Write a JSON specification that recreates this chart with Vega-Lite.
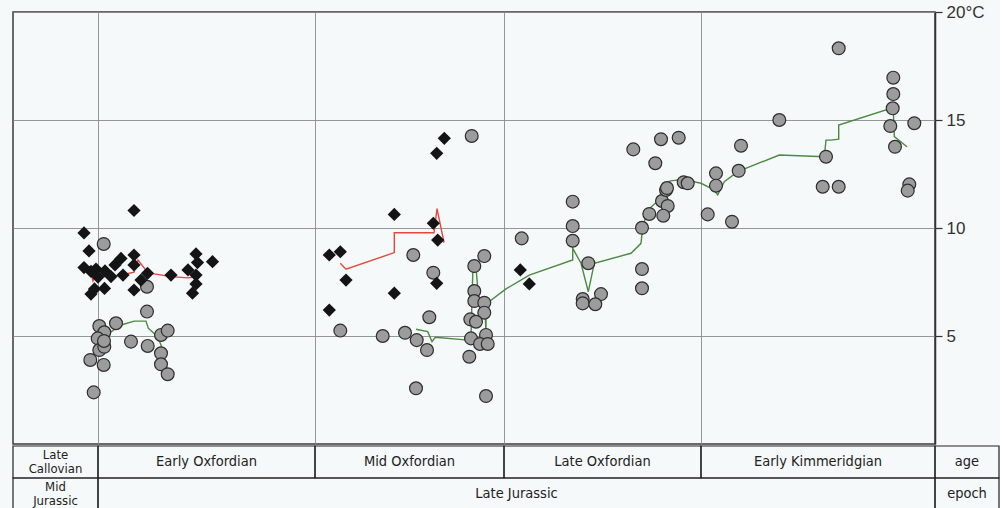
{
  "$schema": "https://vega.github.io/schema/vega-lite/v6.json",
  "background": "#f5f9fa",
  "padding": {"left": 12, "top": 2, "right": 0, "bottom": 0},
  "config": {"view": {"stroke": null}, "font": "Liberation Sans"},
  "spacing": 0,
  "resolve": {"scale": {"x": "independent", "y": "independent"}},
  "datasets": {
    "circles": [
      {"x":102.7,"t":9.26},{"x":146,"t":7.28},{"x":146,"t":6.13},{"x":98.3,"t":5.46},{"x":103.3,"t":5.17},{"x":115,"t":5.59},{"x":96.7,"t":4.89},{"x":98.3,"t":4.35},{"x":103.3,"t":4.5},{"x":103,"t":4.77},{"x":89.3,"t":3.89},{"x":102.7,"t":3.66},{"x":130,"t":4.74},{"x":146.7,"t":4.54},{"x":160,"t":5.05},{"x":166.7,"t":5.25},{"x":160,"t":4.2},{"x":160,"t":3.69},{"x":166.7,"t":3.23},{"x":92.7,"t":2.39},
      {"x":470.7,"t":14.26},{"x":412.3,"t":8.75},{"x":432.3,"t":7.93},{"x":428.3,"t":5.87},{"x":339.3,"t":5.25},{"x":381.7,"t":5.0},{"x":404,"t":5.15},{"x":415.7,"t":4.81},{"x":426,"t":4.35},{"x":415,"t":2.58},{"x":483.3,"t":8.7},{"x":473.3,"t":8.24},{"x":473.3,"t":7.08},{"x":473.3,"t":6.62},{"x":483.3,"t":6.54},{"x":483.3,"t":6.08},{"x":469.3,"t":5.77},{"x":475,"t":5.66},{"x":470,"t":4.89},{"x":485,"t":5.05},{"x":479,"t":4.63},{"x":486.7,"t":4.63},{"x":468.3,"t":4.04},{"x":485,"t":2.22},
      {"x":520.7,"t":9.52},{"x":571.7,"t":11.22},{"x":571.7,"t":10.09},{"x":571.7,"t":9.41},{"x":587.3,"t":8.37},{"x":600,"t":6.94},{"x":581.7,"t":6.71},{"x":581.7,"t":6.51},{"x":594.3,"t":6.47},{"x":632.3,"t":13.64},{"x":660,"t":14.11},{"x":677.7,"t":14.18},{"x":654.3,"t":13.0},{"x":641,"t":10.01},{"x":641,"t":8.1},{"x":641,"t":7.21},{"x":648.3,"t":10.65},{"x":661,"t":11.25},{"x":666.7,"t":11.02},{"x":662.3,"t":10.57},{"x":665,"t":11.76},{"x":666,"t":11.85},{"x":682.7,"t":12.12},{"x":686.7,"t":12.07},
      {"x":706.7,"t":10.63},{"x":715,"t":12.53},{"x":715,"t":11.96},{"x":731,"t":10.29},{"x":740,"t":13.81},{"x":737.7,"t":12.65},{"x":778.3,"t":15.0},{"x":837.7,"t":18.32},{"x":825,"t":13.3},{"x":821.7,"t":11.91},{"x":837.7,"t":11.91},{"x":892.3,"t":16.96},{"x":892.3,"t":16.2},{"x":891.7,"t":15.54},{"x":889.3,"t":14.72},{"x":894,"t":13.76},{"x":913.3,"t":14.85},{"x":908.3,"t":12.02},{"x":906.7,"t":11.73}
    ],
    "diamonds": [
      {"x":133,"t":10.81},{"x":83,"t":9.77},{"x":88,"t":8.94},{"x":83,"t":8.17},{"x":90,"t":7.99},{"x":95,"t":8.1},{"x":97,"t":7.73},{"x":90,"t":6.94},{"x":93.5,"t":7.18},{"x":103.5,"t":7.2},{"x":104,"t":8.01},{"x":110,"t":7.75},{"x":114,"t":8.29},{"x":120,"t":8.59},{"x":122,"t":7.82},{"x":133,"t":8.75},{"x":133,"t":8.29},{"x":140,"t":7.59},{"x":133,"t":7.13},{"x":146.5,"t":7.9},{"x":170,"t":7.82},{"x":187,"t":8.06},{"x":195,"t":8.8},{"x":196.5,"t":8.4},{"x":195,"t":7.82},{"x":195,"t":7.41},{"x":191.5,"t":6.98},{"x":211.5,"t":8.44},
      {"x":443.3,"t":14.15},{"x":435.7,"t":13.46},{"x":393.3,"t":10.63},{"x":432.3,"t":10.22},{"x":436.7,"t":9.44},{"x":328.3,"t":8.75},{"x":339.3,"t":8.9},{"x":345,"t":7.59},{"x":393.3,"t":6.98},{"x":328.3,"t":6.2},{"x":435.7,"t":7.44},
      {"x":519.3,"t":8.06},{"x":528.3,"t":7.41}
    ],
    "lines": [
      {"seg":"r1","s":"diamonds","q":1,"x":88,"t":8.24},{"seg":"r1","s":"diamonds","q":2,"x":92,"t":7.55},{"seg":"r1","s":"diamonds","q":3,"x":96,"t":7.96},{"seg":"r1","s":"diamonds","q":4,"x":104,"t":7.78},{"seg":"r1","s":"diamonds","q":5,"x":112,"t":7.75},{"seg":"r1","s":"diamonds","q":6,"x":125,"t":7.87},{"seg":"r1","s":"diamonds","q":7,"x":133,"t":7.96},{"seg":"r1","s":"diamonds","q":8,"x":137,"t":8.52},{"seg":"r1","s":"diamonds","q":9,"x":147,"t":7.92},{"seg":"r1","s":"diamonds","q":10,"x":170,"t":7.75},{"seg":"r1","s":"diamonds","q":11,"x":187,"t":7.69},{"seg":"r1","s":"diamonds","q":12,"x":193,"t":7.73},
      {"seg":"r2","s":"diamonds","q":1,"x":339.3,"t":8.37},{"seg":"r2","s":"diamonds","q":2,"x":345,"t":8.09},{"seg":"r2","s":"diamonds","q":3,"x":393.3,"t":8.86},{"seg":"r2","s":"diamonds","q":4,"x":393.3,"t":9.78},{"seg":"r2","s":"diamonds","q":5,"x":433,"t":9.78},{"seg":"r2","s":"diamonds","q":6,"x":436,"t":10.9},{"seg":"r2","s":"diamonds","q":7,"x":443,"t":9.33},{"seg":"r2","s":"diamonds","q":8,"x":438,"t":9.63},
      {"seg":"g1","s":"circles","q":1,"x":103.3,"t":4.97},{"seg":"g1","s":"circles","q":2,"x":120,"t":5.51},{"seg":"g1","s":"circles","q":3,"x":133.3,"t":5.69},{"seg":"g1","s":"circles","q":4,"x":145,"t":5.69},{"seg":"g1","s":"circles","q":5,"x":147.3,"t":5.36},{"seg":"g1","s":"circles","q":6,"x":156.7,"t":4.97},{"seg":"g1","s":"circles","q":7,"x":160,"t":4.58},{"seg":"g1","s":"circles","q":8,"x":161.7,"t":4.35},
      {"seg":"g2","s":"circles","q":1,"x":415,"t":5.31},{"seg":"g2","s":"circles","q":2,"x":426.7,"t":5.2},{"seg":"g2","s":"circles","q":3,"x":431,"t":4.74},{"seg":"g2","s":"circles","q":4,"x":434.3,"t":4.94},{"seg":"g2","s":"circles","q":5,"x":466.7,"t":4.81},{"seg":"g2","s":"circles","q":6,"x":470,"t":5.0},{"seg":"g2","s":"circles","q":7,"x":471,"t":6.67},{"seg":"g2","s":"circles","q":8,"x":472,"t":8.24},{"seg":"g2","s":"circles","q":9,"x":475,"t":8.15},{"seg":"g2","s":"circles","q":10,"x":478.3,"t":6.36},{"seg":"g2","s":"circles","q":11,"x":484,"t":6.34},{"seg":"g2","s":"circles","q":12,"x":485,"t":5.05},{"seg":"g2","s":"circles","q":13,"x":485,"t":6.39},{"seg":"g2","s":"circles","q":14,"x":489,"t":6.62},{"seg":"g2","s":"circles","q":15,"x":505,"t":7.18},{"seg":"g2","s":"circles","q":16,"x":528.3,"t":7.82},{"seg":"g2","s":"circles","q":17,"x":571.7,"t":8.52},{"seg":"g2","s":"circles","q":18,"x":571.7,"t":9.06},{"seg":"g2","s":"circles","q":19,"x":580,"t":8.37},{"seg":"g2","s":"circles","q":20,"x":587.3,"t":7.05},{"seg":"g2","s":"circles","q":21,"x":593.3,"t":8.37},{"seg":"g2","s":"circles","q":22,"x":630,"t":8.83},{"seg":"g2","s":"circles","q":23,"x":640,"t":9.29},{"seg":"g2","s":"circles","q":24,"x":641.7,"t":10.03},{"seg":"g2","s":"circles","q":25,"x":646.7,"t":10.83},{"seg":"g2","s":"circles","q":26,"x":660,"t":11.38},{"seg":"g2","s":"circles","q":27,"x":661.7,"t":12.07},{"seg":"g2","s":"circles","q":28,"x":670,"t":12.18},{"seg":"g2","s":"circles","q":29,"x":681.7,"t":12.25},{"seg":"g2","s":"circles","q":30,"x":700,"t":12.07},{"seg":"g2","s":"circles","q":31,"x":713.3,"t":11.76},{"seg":"g2","s":"circles","q":32,"x":716.7,"t":11.53},{"seg":"g2","s":"circles","q":33,"x":723.3,"t":12.14},{"seg":"g2","s":"circles","q":34,"x":736.7,"t":12.61},{"seg":"g2","s":"circles","q":35,"x":778.3,"t":13.38},{"seg":"g2","s":"circles","q":36,"x":823.3,"t":13.3},{"seg":"g2","s":"circles","q":37,"x":825,"t":14.07},{"seg":"g2","s":"circles","q":38,"x":830,"t":14.07},{"seg":"g2","s":"circles","q":39,"x":837.7,"t":14.11},{"seg":"g2","s":"circles","q":40,"x":837.7,"t":14.77},{"seg":"g2","s":"circles","q":41,"x":890,"t":15.54},{"seg":"g2","s":"circles","q":42,"x":892.3,"t":15.46},{"seg":"g2","s":"circles","q":43,"x":893.3,"t":14.23},{"seg":"g2","s":"circles","q":44,"x":906,"t":13.76}
    ],
    "table": [
      {"x1":12,"x2":97,"xm":54.5,"y1":1,"y2":2,"ym":1.5,"ml":true,"label":"Late\nCallovian"},
      {"x1":97,"x2":314,"xm":205.5,"y1":1,"y2":2,"ym":1.5,"ml":false,"label":"Early Oxfordian"},
      {"x1":314,"x2":503,"xm":408.5,"y1":1,"y2":2,"ym":1.5,"ml":false,"label":"Mid Oxfordian"},
      {"x1":503,"x2":700,"xm":601.5,"y1":1,"y2":2,"ym":1.5,"ml":false,"label":"Late Oxfordian"},
      {"x1":700,"x2":934,"xm":817,"y1":1,"y2":2,"ym":1.5,"ml":false,"label":"Early Kimmeridgian"},
      {"x1":934,"x2":998,"xm":966,"y1":1,"y2":2,"ym":1.5,"ml":false,"label":"age"},
      {"x1":12,"x2":97,"xm":54.5,"y1":0,"y2":1,"ym":0.5,"ml":true,"label":"Mid\nJurassic"},
      {"x1":97,"x2":934,"xm":515.5,"y1":0,"y2":1,"ym":0.5,"ml":false,"label":"Late Jurassic"},
      {"x1":934,"x2":998,"xm":966,"y1":0,"y2":1,"ym":0.5,"ml":false,"label":"epoch"}
    ]
  },
  "vconcat": [
    {
      "width": 922,
      "height": 432,
      "view": {"stroke": "#3a3a3a", "strokeWidth": 1.5, "fill": "#f5f9fa"},
      "encoding": {
        "x": {"field": "x", "type": "quantitative",
          "scale": {"domain": [12, 934], "nice": false, "zero": false},
          "axis": {"values": [97, 314, 503, 700], "grid": true, "labels": false, "ticks": false, "domain": false, "title": null, "gridColor": "#8a8a8a", "gridWidth": 0.9, "gridOpacity": 1}},
        "y": {"field": "t", "type": "quantitative",
          "scale": {"domain": [0, 20], "nice": false, "zero": true},
          "axis": {"orient": "right", "values": [5, 10, 15, 20], "title": null, "grid": true, "gridColor": "#8a8a8a", "gridWidth": 0.9, "gridOpacity": 1,
            "labelExpr": "datum.value == 20 ? '20°C' : datum.label",
            "tickSize": 7, "tickColor": "#333", "tickWidth": 1.2, "domainColor": "#333", "domainWidth": 1.5,
            "labelFont": "Liberation Sans", "labelFontSize": 17, "labelColor": "#333", "labelPadding": 4}}
      },
      "layer": [
        {
          "data": {"name": "lines"},
          "mark": {"type": "line", "strokeWidth": 1.4},
          "encoding": {
            "detail": {"field": "seg"},
            "order": {"field": "q", "type": "quantitative"},
            "color": {"field": "s", "type": "nominal", "scale": {"domain": ["diamonds", "circles"], "range": ["#e5483b", "#4a8b41"]}, "legend": null}
          }
        },
        {
          "data": {"name": "circles"},
          "mark": {"type": "point", "shape": "circle", "filled": true, "size": 165, "fill": "#9c9c9c", "stroke": "#2e2e2e", "strokeWidth": 1.2, "opacity": 1, "fillOpacity": 1}
        },
        {
          "data": {"name": "diamonds"},
          "mark": {"type": "point", "shape": "diamond", "filled": true, "size": 175, "color": "#141414", "opacity": 1}
        }
      ]
    },
    {
      "width": 986,
      "height": 64,
      "data": {"name": "table"},
      "encoding": {
        "y": {"field": "y1", "type": "quantitative", "scale": {"domain": [0, 2], "nice": false}, "axis": null}
      },
      "layer": [
        {
          "mark": {"type": "rect", "filled": false, "stroke": "#222", "strokeWidth": 1.2, "fillOpacity": 0},
          "encoding": {
            "x": {"field": "x1", "type": "quantitative", "scale": {"domain": [12, 998], "nice": false, "zero": false}, "axis": null},
            "x2": {"field": "x2"},
            "y2": {"field": "y2"}
          }
        },
        {
          "transform": [{"filter": "!datum.ml"}],
          "mark": {"type": "text", "font": "Liberation Sans Narrow, DejaVu Sans Condensed, Open Sans", "fontSize": 14.5, "color": "#222"},
          "encoding": {
            "x": {"field": "xm", "type": "quantitative"},
            "y": {"field": "ym", "type": "quantitative"},
            "text": {"field": "label"}
          }
        },
        {
          "transform": [{"filter": "datum.ml"}],
          "mark": {"type": "text", "lineBreak": "\n", "font": "Liberation Sans Narrow, DejaVu Sans Condensed, Open Sans", "fontSize": 13, "color": "#222", "lineHeight": 13.5, "dy": -7},
          "encoding": {
            "x": {"field": "xm", "type": "quantitative"},
            "y": {"field": "ym", "type": "quantitative"},
            "text": {"field": "label"}
          }
        }
      ]
    }
  ]
}
